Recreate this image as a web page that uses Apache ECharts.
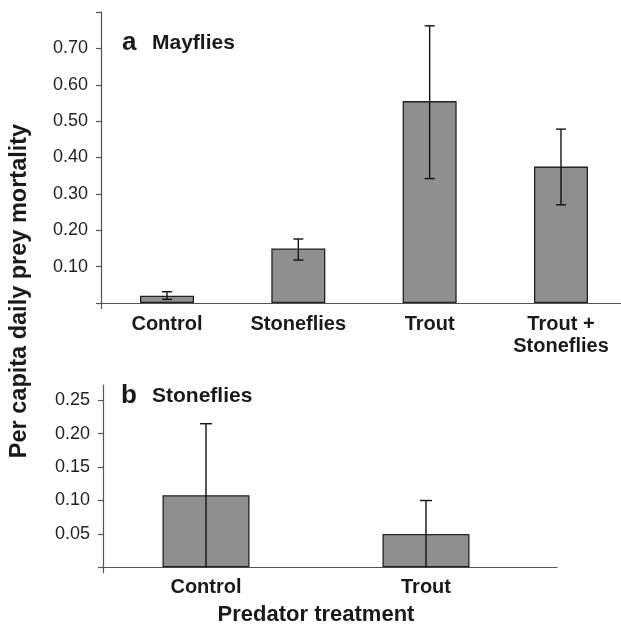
<!DOCTYPE html>
<html>
<head>
<meta charset="utf-8">
<script src="https://cdn.jsdelivr.net/npm/echarts@6/dist/echarts.min.js"></script>
<style>
html,body{margin:0;padding:0;background:#fff;}
#chart{width:621px;height:625px;}
</style>
</head>
<body>
<div id="chart"></div>
<script>
// Panel a: Mayflies
const catsA = ['Control', 'Stoneflies', 'Trout', 'Trout +\nStoneflies'];
const mayflyMean = [0.02, 0.15, 0.555, 0.375];
const mayflyLow  = [0.01, 0.118, 0.342, 0.27];
const mayflyHigh = [0.031, 0.176, 0.762, 0.478];
const ticksA = [0.10, 0.20, 0.30, 0.40, 0.50, 0.60, 0.70];
const tickMarksA = [0, 0.1, 0.2, 0.3, 0.4, 0.5, 0.6, 0.7, 0.8];

// Panel b: Stoneflies
const catsB = ['Control', 'Trout'];
const stoneflyMean = [0.108, 0.05];
const stoneflyLow  = [0, 0];
const stoneflyHigh = [0.215, 0.10];
const ticksB = [0.05, 0.10, 0.15, 0.20, 0.25];
const tickMarksB = [0, 0.05, 0.10, 0.15, 0.20, 0.25];

const FONT = "'Liberation Sans', Arial, Helvetica, sans-serif";
const AXIS_COLOR = '#555';

const chart = echarts.init(document.getElementById('chart'), null, {renderer: 'canvas'});

function barData(means) { return means.map((v, i) => [i + 1, v]); }
function errData(lo, hi) { return lo.map((v, i) => [i + 1, v, hi[i]]); }

function errRender(capHalf) {
  return function (params, api) {
    const x = api.value(0), lo = api.value(1), hi = api.value(2);
    const pLo = api.coord([x, lo]);
    const pHi = api.coord([x, hi]);
    const style = {stroke: '#111', lineWidth: 1.4};
    const children = [
      {type: 'line', shape: {x1: pLo[0], y1: pLo[1], x2: pHi[0], y2: pHi[1]}, style},
      {type: 'line', shape: {x1: pHi[0] - capHalf, y1: pHi[1], x2: pHi[0] + capHalf, y2: pHi[1]}, style}
    ];
    if (lo > 0) {
      children.push({type: 'line', shape: {x1: pLo[0] - capHalf, y1: pLo[1], x2: pLo[0] + capHalf, y2: pLo[1]}, style});
    }
    return {type: 'group', children};
  };
}

const xMinA = 0.4975, xMaxA = 4.457;
const xMinB = 0.5318, xMaxB = 2.5955;

function xAxisCfg(grid, min, max, cats, lineH, margin) {
  return {
    type: 'value', gridIndex: grid, min: min, max: max,
    splitLine: {show: false},
    axisLine: {show: true, lineStyle: {color: AXIS_COLOR, width: 1.2}},
    axisTick: {show: true, length: 6, customValues: [min], lineStyle: {color: AXIS_COLOR, width: 1.2}},
    axisLabel: {
      customValues: cats.map((c, i) => i + 1),
      formatter: v => cats[Math.round(v) - 1] || '',
      fontFamily: FONT, fontSize: 20, fontWeight: 'bold', color: '#1a1a1a',
      lineHeight: lineH, margin: margin
    }
  };
}

function yAxisCfg(grid, max, labels, marks) {
  return {
    type: 'value', gridIndex: grid, min: 0, max: max,
    splitLine: {show: false},
    axisLine: {show: true, lineStyle: {color: AXIS_COLOR, width: 1.2}},
    axisTick: {show: true, length: 5, customValues: marks, lineStyle: {color: AXIS_COLOR, width: 1.2}},
    axisLabel: {
      customValues: labels,
      formatter: v => v.toFixed(2),
      fontFamily: FONT, fontSize: 18, color: '#222', margin: 13
    }
  };
}

const option = {
  backgroundColor: '#fff',
  animation: false,
  grid: [
    {left: 101, top: 12, width: 520, height: 291, containLabel: false},
    {left: 103, top: 385, width: 454, height: 182.3, containLabel: false}
  ],
  xAxis: [
    xAxisCfg(0, xMinA, xMaxA, catsA, 22, 10),
    xAxisCfg(1, xMinB, xMaxB, catsB, 22, 9)
  ],
  yAxis: [
    yAxisCfg(0, 0.8, ticksA, tickMarksA),
    yAxisCfg(1, 0.273, ticksB, tickMarksB)
  ],
  series: [
    {
      type: 'bar', xAxisIndex: 0, yAxisIndex: 0, barWidth: 54,
      data: barData(mayflyMean),
      itemStyle: {color: '#8f8f8f', borderColor: '#222', borderWidth: 1.3}
    },
    {
      type: 'custom', xAxisIndex: 0, yAxisIndex: 0, z: 5,
      renderItem: errRender(5),
      encode: {x: 0, y: [1, 2]},
      data: errData(mayflyLow, mayflyHigh)
    },
    {
      type: 'bar', xAxisIndex: 1, yAxisIndex: 1, barWidth: 87,
      data: barData(stoneflyMean),
      itemStyle: {color: '#8f8f8f', borderColor: '#222', borderWidth: 1.3}
    },
    {
      type: 'custom', xAxisIndex: 1, yAxisIndex: 1, z: 5,
      renderItem: errRender(6),
      encode: {x: 0, y: [1, 2]},
      data: errData(stoneflyLow, stoneflyHigh)
    }
  ],
  graphic: [
    {
      type: 'text', x: 122, y: 56,
      style: {
        text: '{l|a}{t|Mayflies}',
        textVerticalAlign: 'bottom',
        rich: {
          l: {fontFamily: FONT, fontSize: 26, fontWeight: 'bold', fill: '#1a1a1a', width: 30},
          t: {fontFamily: FONT, fontSize: 21, fontWeight: 'bold', fill: '#1a1a1a'}
        }
      }
    },
    {
      type: 'text', x: 121, y: 409,
      style: {
        text: '{l|b}{t|Stoneflies}',
        textVerticalAlign: 'bottom',
        rich: {
          l: {fontFamily: FONT, fontSize: 26, fontWeight: 'bold', fill: '#1a1a1a', width: 31},
          t: {fontFamily: FONT, fontSize: 21, fontWeight: 'bold', fill: '#1a1a1a'}
        }
      }
    },
    {
      type: 'text', x: 20, y: 291, rotation: Math.PI / 2,
      style: {
        text: 'Per capita daily prey mortality',
        fontFamily: FONT, fontSize: 23.5, fontWeight: 'bold', fill: '#1a1a1a',
        textAlign: 'center', textVerticalAlign: 'middle'
      }
    },
    {
      type: 'text', x: 316, y: 615,
      style: {
        text: 'Predator treatment',
        fontFamily: FONT, fontSize: 22, fontWeight: 'bold', fill: '#1a1a1a',
        textAlign: 'center', textVerticalAlign: 'middle'
      }
    }
  ]
};

chart.setOption(option);
</script>
</body>
</html>
